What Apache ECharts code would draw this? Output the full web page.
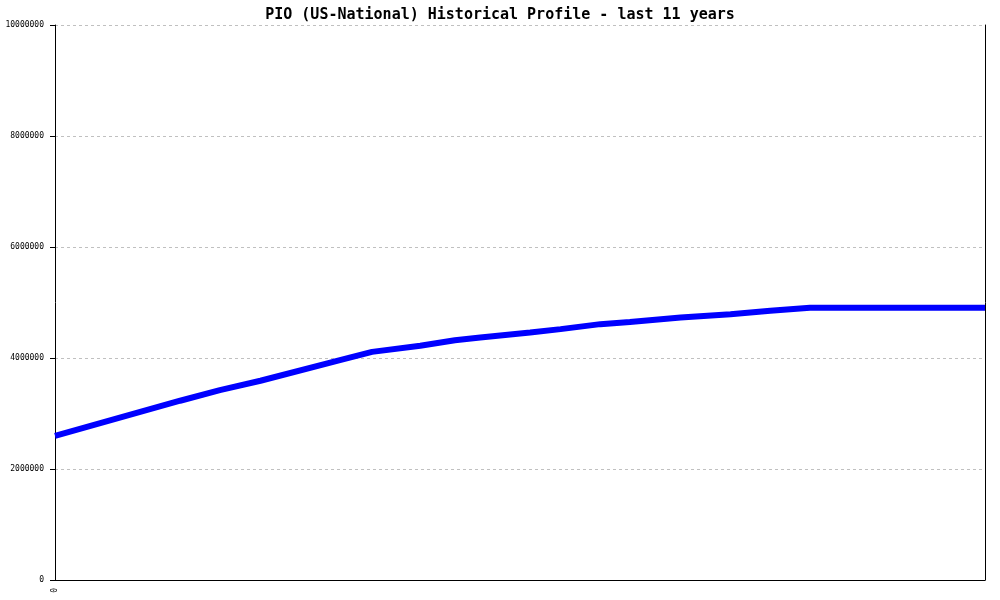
<!DOCTYPE html>
<html>
<head>
<meta charset="utf-8">
<script src="https://cdn.jsdelivr.net/npm/echarts@6/dist/echarts.min.js"></script>
<style>html,body{margin:0;padding:0;background:#fff;}#c{width:1000px;height:600px;}</style>
</head>
<body>
<div id="c"></div>
<script>
const titleText = "PIO (US-National) Historical Profile - last 11 years";
// position in years (0..11) and value
const years = [0, 1.48, 1.95, 2.43, 3.37, 3.75, 4.32, 4.73, 5.03, 5.62, 5.98, 6.45, 6.80, 7.40, 7.99, 8.46, 8.93, 11];
const values = [2595000, 3230000, 3420000, 3590000, 3960000, 4110000, 4220000, 4320000, 4370000, 4460000, 4520000, 4610000, 4650000, 4730000, 4790000, 4850000, 4906000, 4906000];
const yTicks = [0, 2000000, 4000000, 6000000, 8000000, 10000000];

const chart = echarts.init(document.getElementById('c'));
const mono = 'DejaVu Sans Mono, monospace';
chart.setOption({
  animation: false,
  backgroundColor: '#ffffff',
  title: {
    text: titleText, left: 'center', top: 3,
    textStyle: { fontFamily: mono, fontSize: 15, fontWeight: 'bold', color: '#000' }
  },
  grid: { left: 55, right: 15, top: 25, bottom: 20, containLabel: false },
  xAxis: {
    type: 'value', min: 0, max: 11, interval: 11,
    axisLine: { show: true, onZero: false, lineStyle: { color: '#000', width: 1 } },
    axisTick: { show: false },
    splitLine: { show: false },
    axisLabel: {
      rotate: 90, fontFamily: mono, fontSize: 8, color: '#000', margin: 8,
      formatter: v => v === 0 ? '0' : ''
    }
  },
  yAxis: [{
    type: 'value', min: 0, max: 10000000, interval: 2000000,
    axisLine: { show: true, onZero: false, lineStyle: { color: '#000', width: 1 } },
    axisTick: { show: true, length: 5, lineStyle: { color: '#000' } },
    axisLabel: { fontFamily: mono, fontSize: 8, color: '#000', margin: 11,
      formatter: v => String(v) },
    splitLine: { show: true, lineStyle: { color: '#c0c0c0', type: [3, 3], width: 1 } }
  }, {
    type: 'value', min: 0, max: 10000000, interval: 2000000, position: 'right',
    axisLine: { show: true, onZero: false, lineStyle: { color: '#000', width: 1 } },
    axisTick: { show: false }, axisLabel: { show: false }, splitLine: { show: false }
  }],
  series: [{
    type: 'line',
    data: years.map((t, i) => [t, values[i]]),
    showSymbol: false,
    lineStyle: { color: '#0000ff', width: 6 },
    itemStyle: { color: '#0000ff' }
  }]
});
</script>
</body>
</html>
